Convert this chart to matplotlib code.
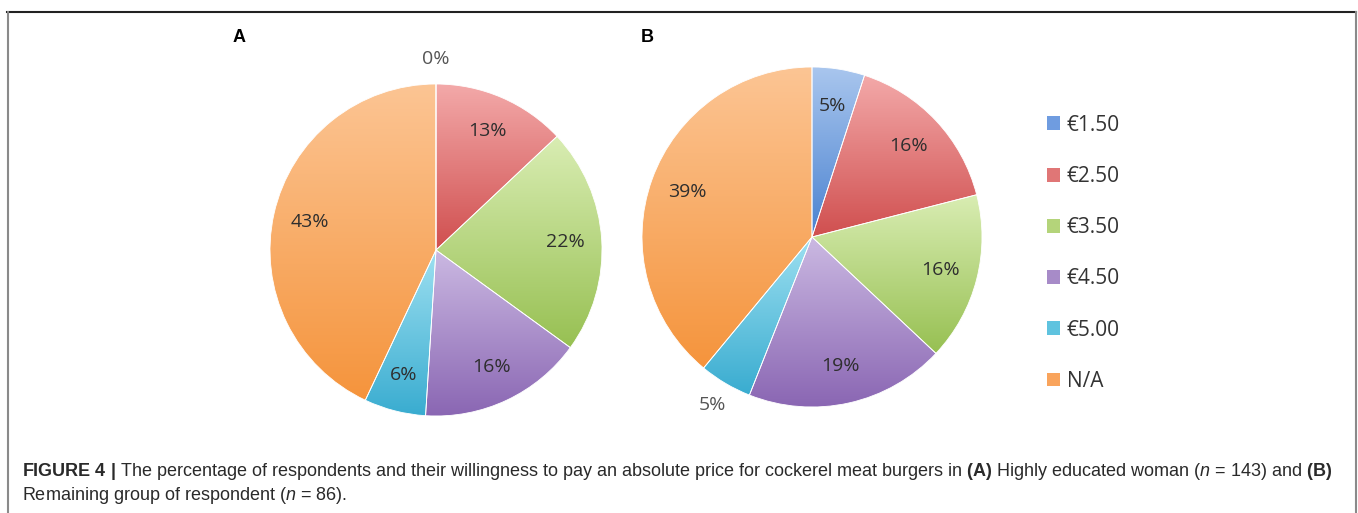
import numpy as np
import matplotlib.pyplot as plt
from matplotlib.colors import LinearSegmentedColormap
from matplotlib.patches import Patch
from matplotlib.lines import Line2D

# willingness-to-pay categories and shares (%)
prices = ["€1.50", "€2.50", "€3.50", "€4.50", "€5.00", "N/A"]
shares_a = [0, 13, 22, 16, 6, 43]
shares_b = [5, 16, 16, 19, 5, 39]
# labels that sit outside the pie (index of slice)
outside_a = [0]
outside_b = [4]

# flat colours for the legend, light/dark pairs for the slice gradients
base_colors = ["#6f9ce0", "#e07676", "#b4d47a", "#a78bc8", "#5fc3df", "#f9a45c"]
light_colors = ["#a9c6ee", "#f3a9a9", "#d9edb3", "#cbb9e2", "#9ee0f1", "#fcc594"]
dark_colors = ["#4a82d0", "#d04f4f", "#97c052", "#8a66b3", "#39acd0", "#f5943c"]

W, H = 1358, 513
fig = plt.figure(figsize=(W / 100, H / 100), dpi=100)
plt.rcParams['mathtext.fontset'] = 'custom'
plt.rcParams['mathtext.rm'] = 'Liberation Sans'
plt.rcParams['mathtext.bf'] = 'Liberation Sans:bold'
plt.rcParams['mathtext.it'] = 'Liberation Sans:italic'


def pie_axes(cx, cy, r):
    # axes in pixel terms, 1 data unit = r pixels, limits +-1.3
    half = 1.3 * r
    ax = fig.add_axes([(cx - half) / W, 1 - (cy + half) / H, 2 * half / W, 2 * half / H])
    ax.set_xlim(-1.3, 1.3)
    ax.set_ylim(-1.3, 1.3)
    ax.set_aspect('equal')
    ax.axis('off')
    return ax


def draw_pie(ax, shares, outside):
    wedges, texts, autotexts = ax.pie(
        shares, colors=base_colors, startangle=90, counterclock=False,
        autopct=lambda p: f"{p:.0f}%", pctdistance=0.78,
        wedgeprops=dict(edgecolor='white', linewidth=0.6),
        textprops=dict(fontsize=14, family='Open Sans', color='#2e2e2e'))
    # vertical gradient inside each slice
    for w, lc, dc in zip(wedges, light_colors, dark_colors):
        ext = w.get_path().get_extents()
        if ext.height <= 0 or ext.width <= 0:
            continue
        cmap = LinearSegmentedColormap.from_list('g', [dc, lc])
        grad = np.linspace(0, 1, 256).reshape(-1, 1)
        im = ax.imshow(grad, cmap=cmap, origin='lower', aspect='auto',
                       extent=[ext.x0, ext.x1, ext.y0, ext.y1], zorder=w.get_zorder() - 0.1)
        im.set_clip_path(w)
        w.set_facecolor('none')
    ax.set_xlim(-1.3, 1.3)
    ax.set_ylim(-1.3, 1.3)
    for i in outside:
        x, y = autotexts[i].get_position()
        autotexts[i].set_position((x * 1.15 / 0.78, y * 1.15 / 0.78))
        autotexts[i].set_color('#555555')
    return wedges


ax_a = pie_axes(436, 250, 166)
draw_pie(ax_a, shares_a, outside_a)
ax_b = pie_axes(812, 237, 170)
draw_pie(ax_b, shares_b, outside_b)

# panel letters
fig.text(233 / W, 1 - 42 / H, "A", fontsize=13, fontweight='bold', family='Liberation Sans')
fig.text(641 / W, 1 - 42 / H, "B", fontsize=13, fontweight='bold', family='Liberation Sans')

# legend
handles = [Patch(facecolor=c, edgecolor='none') for c in base_colors]
leg = fig.legend(handles, prices, loc='upper left', bbox_to_anchor=(1028 / W, 1 - 96 / H),
                 frameon=False, handlelength=0.65, handleheight=0.65, handletextpad=0.3,
                 labelspacing=1.45, prop=dict(family='Open Sans', size=15))
for t in leg.get_texts():
    t.set_color('#333333')

# caption
line1 = (r"$\mathbf{FIGURE\ 4\ |}$ The percentage of respondents and their willingness to pay an absolute "
         r"price for cockerel meat burgers in $\mathbf{(A)}$ Highly educated woman ($\mathit{n}$ = 143) and $\mathbf{(B)}$")
line2 = r"Remaining group of respondent ($\mathit{n}$ = 86)."
fig.text(22 / W, 1 - 476 / H, line1, fontsize=13, family='Liberation Sans', color='#2a2a2a', va='baseline')
fig.text(22 / W, 1 - 500 / H, line2, fontsize=13, family='Liberation Sans', color='#2a2a2a', va='baseline')

# frame around the figure
fig.add_artist(Line2D([7 / W, 1356 / W], [1 - 12 / H, 1 - 12 / H], color='#222222', lw=1.5))
fig.add_artist(Line2D([7.5 / W, 7.5 / W], [0, 1 - 12 / H], color='#8a8a8a', lw=1.5))
fig.add_artist(Line2D([1356 / W, 1356 / W], [0, 1 - 12 / H], color='#8a8a8a', lw=1.5))

fig.savefig('out.png', dpi=100)
